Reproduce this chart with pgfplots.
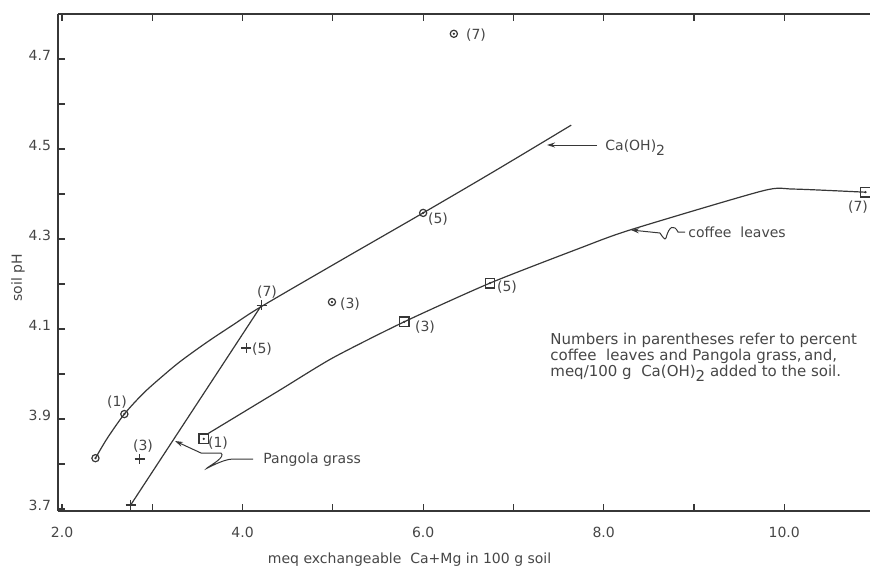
\documentclass[border=0pt]{standalone}
\usepackage{pgfplots}
\pgfplotsset{compat=1.18}
\usepackage{fontspec}
\setmainfont{DejaVu Sans}
\usetikzlibrary{arrows.meta}
\definecolor{ink}{RGB}{55,55,55}
\definecolor{txt}{RGB}{70,70,70}
\begin{document}
\begin{tikzpicture}
\begin{axis}[
  scale only axis, width=406pt, height=248.5pt,
  xmin=1.955, xmax=10.95, ymin=3.6956, ymax=4.8,
  axis x line*=box, axis y line*=left,
  axis line style={ink, line width=0.6pt},
  xtick={2,4,6,8,10}, xticklabels={2.0,4.0,6.0,8.0,10.0},
  minor xtick={3,5,7,9},
  ytick={3.7,3.9,4.1,4.3,4.5,4.7}, yticklabels={3.7,3.9,4.1,4.3,4.5,4.7},
  minor ytick={3.8,4.0,4.2,4.4,4.6},
  tick align=inside, major tick length=3.5pt, minor tick length=3.5pt,
  every tick/.style={ink, line width=0.6pt},
  ticklabel style={font=\fontsize{7}{8}\selectfont, text=txt},
  xticklabel style={yshift=-4.5pt},
  yticklabel style={yshift=2pt},
  xlabel={meq exchangeable\ \ Ca+Mg in 100 g soil},
  ylabel={soil pH},
  label style={font=\fontsize{7}{8}\selectfont, text=txt},
  x label style={at={(axis description cs:0.433,-0.0986)}, anchor=center},
  y label style={at={(axis description cs:-0.0493,0.469)}, anchor=center},
  clip=false,
]
\coordinate (o) at (rel axis cs:0,1);
% Ca(OH)2
\addplot[ink, line width=0.6pt, smooth, tension=0.5] coordinates {(2.37,3.813) (2.5,3.857) (2.69,3.911) (2.9,3.957) (3.1,3.993) (3.31,4.028) (3.6,4.07) (3.9,4.11) (4.2,4.149) (5.1,4.254) (6.0,4.358) (6.8,4.452) (7.64,4.553)};
\addplot[only marks, mark=o, mark size=1.8pt, mark options={ink, fill=white, line width=0.6pt}] coordinates {(2.37,3.813) (2.69,3.911) (4.99,4.16) (6.0,4.358) (6.34,4.756)};
\addplot[only marks, mark=*, mark size=0.35pt, ink] coordinates {(2.37,3.813) (2.69,3.911) (4.99,4.16) (6.0,4.358) (6.34,4.756)};
% coffee leaves
\addplot[ink, line width=0.6pt, smooth, tension=0.4] coordinates {(3.62,3.868) (4.41,3.964) (5.0,4.036) (5.79,4.116) (6.74,4.202) (7.74,4.28) (8.29,4.32) (9.76,4.407) (10.1,4.411) (10.9,4.404)};
\addplot[only marks, mark=square, mark size=2.4pt, mark options={ink, fill=white, line width=0.6pt}] coordinates {(3.57,3.856) (5.79,4.116) (6.74,4.202) (10.9,4.404)};
\addplot[only marks, mark=*, mark size=0.35pt, ink] coordinates {(3.57,3.856) (5.79,4.116) (6.74,4.202) (10.9,4.404)};
% Pangola grass
\addplot[ink, line width=0.6pt] coordinates {(2.76,3.709) (4.21,4.153)};
\addplot[only marks, mark=+, mark size=2.5pt, mark options={ink, line width=0.6pt}] coordinates {(2.76,3.709) (2.86,3.811) (4.04,4.058) (4.21,4.153)};
\end{axis}
\begin{scope}[shift={(o)}, xshift=-29pt, yshift=7pt, x=0.5pt, y=-0.5pt, font=\fontsize{7}{8}\selectfont, text=txt]
  % point labels
  \node at (117,402) {(1)};
  \node at (350,304) {(3)};
  \node at (438,219) {(5)};
  \node at (476,35) {(7)};
  \node at (267,292) {(7)};
  \node at (262,349) {(5)};
  \node at (143,446) {(3)};
  \node at (218,443) {(1)};
  \node at (425,327) {(3)};
  \node at (507,287) {(5)};
  \node at (858,207) {(7)};
  % callouts
  \draw[ink, line width=0.5pt, -{Stealth[length=4pt,width=2.5pt]}] (597,145) -- (547,145);
  \node[anchor=base west, inner sep=0] at (605,150) {Ca(OH)\raisebox{-0.7ex}{2}};
  \draw[ink, line width=0.5pt, -{Stealth[length=4pt,width=2.5pt]}] (685,232) -- (678,232) .. controls (674,224) and (669,226) .. (666,238) .. controls (665,241) and (662,236) .. (660,233) -- (631,230);
  \node[anchor=base west, inner sep=0] at (688,237) {coffee\ \ leaves};
  \draw[ink, line width=0.5pt, -{Stealth[length=4pt,width=2.5pt]}] (253,459) -- (233,459) .. controls (222,459) and (203,471) .. (207,468) .. controls (211,465) and (226,457) .. (221,453) -- (201,453) -- (175,441);
  \node[anchor=base west, inner sep=0] at (263,463) {Pangola grass};
  \node[anchor=north west, inner sep=0, align=left, font=\fontsize{7.5}{7.8}\selectfont] at (550,333) {Numbers in parentheses refer to percent\\ coffee\ \ leaves and Pangola grass,\,and,\\ meq/100 g\ \ Ca(OH)\raisebox{-0.7ex}{2} added to the soil.};
  \pgfresetboundingbox
  \path[use as bounding box] (0,0) rectangle (870,569);
\end{scope}
\end{tikzpicture}
\end{document}
